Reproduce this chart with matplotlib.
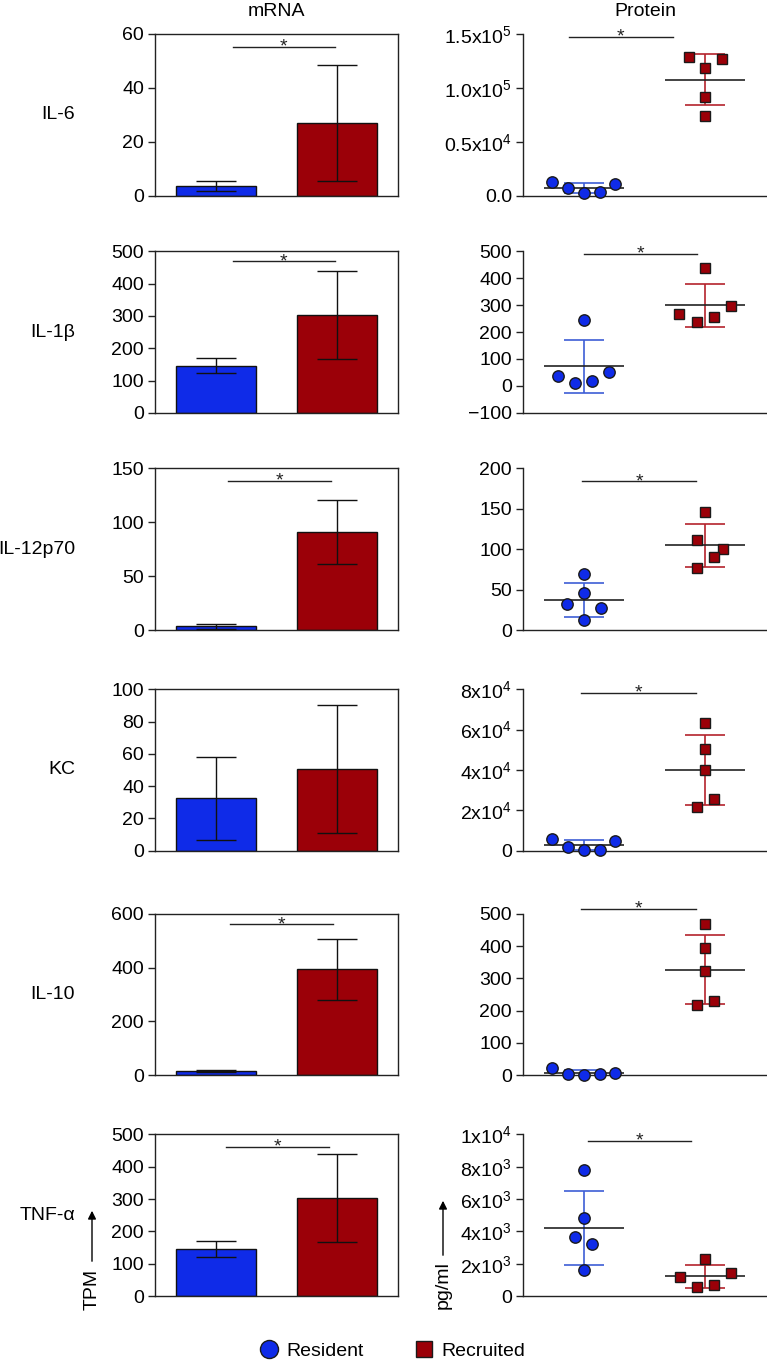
import matplotlib
matplotlib.use("Agg")
import matplotlib.pyplot as plt
from matplotlib.lines import Line2D
from matplotlib.patches import FancyArrowPatch
import numpy as np

# ---------------- data ----------------
genes = ["IL-6", "IL-1\u03b2", "IL-12p70", "KC", "IL-10", "TNF-\u03b1"]
groups = ["Resident", "Recruited"]

# mRNA (TPM): mean and SD per group
mrna_res_mean = [3.5, 146, 3.8, 32.5, 17, 146]
mrna_res_sd = [1.8, 24, 2.3, 25.7, 3.5, 24]
mrna_rec_mean = [27, 303, 91, 50.5, 394, 303]
mrna_rec_sd = [21.5, 135, 29.5, 39.7, 113, 135]

# protein (pg/ml): individual samples
il6_res = [12700, 7400, 2200, 2800, 10600]
il6_rec = [128400, 126500, 118200, 91300, 73900]
il1b_res = [38, 245, 10, 18.6, 50.8]
il1b_rec = [266, 439, 238.6, 257, 296.8]
il12_res = [69, 46, 32.4, 27.9, 12.7]
il12_rec = [146.2, 111.6, 100.2, 90, 76.8]
kc_res = [5790, 1980, 350, 640, 4950]
kc_rec = [63500, 50300, 40100, 25400, 21800]
il10_res = [23.5, 5, 0, 4, 8]
il10_rec = [469, 394.8, 322.7, 230, 218.4]
tnf_res = [7770, 4840, 3670, 3200, 1590]
tnf_rec = [1190, 2290, 540, 680, 1440]

prot_res = [il6_res, il1b_res, il12_res, kc_res, il10_res, tnf_res]
prot_rec = [il6_rec, il1b_rec, il12_rec, kc_rec, il10_rec, tnf_rec]

# axis limits and ticks
mrna_ylim = [(0, 60), (0, 500), (0, 150), (0, 100), (0, 600), (0, 500)]
mrna_ticks = [[0, 20, 40, 60], [0, 100, 200, 300, 400, 500], [0, 50, 100, 150],
              [0, 20, 40, 60, 80, 100], [0, 200, 400, 600], [0, 100, 200, 300, 400, 500]]
prot_ylim = [(0, 150000), (-100, 500), (0, 200), (0, 80000), (0, 500), (0, 10000)]
prot_ticks = [[0, 50000, 100000, 150000], [-100, 0, 100, 200, 300, 400, 500],
              [0, 50, 100, 150, 200], [0, 20000, 40000, 60000, 80000],
              [0, 100, 200, 300, 400, 500], [0, 2000, 4000, 6000, 8000, 10000]]
prot_ticklabels = [
    ["0.0", r"$\mathregular{0.5x10^4}$", r"$\mathregular{1.0x10^5}$", r"$\mathregular{1.5x10^5}$"],
    ["\u2212100", "0", "100", "200", "300", "400", "500"],
    ["0", "50", "100", "150", "200"],
    ["0", r"$\mathregular{2x10^4}$", r"$\mathregular{4x10^4}$", r"$\mathregular{6x10^4}$", r"$\mathregular{8x10^4}$"],
    ["0", "100", "200", "300", "400", "500"],
    ["0", r"$\mathregular{2x10^3}$", r"$\mathregular{4x10^3}$", r"$\mathregular{6x10^3}$",
     r"$\mathregular{8x10^3}$", r"$\mathregular{1x10^4}$"],
]

# significance bars: (x start, x end, y level); None = no bar
mrna_sig = [(1.14, 1.98, 55.3), (1.14, 1.98, 469), (1.104, 1.95, 138.6), None,
            (1.12, 1.965, 560.7), (1.088, 1.929, 461.7)]
prot_sig = [(0.881, 1.731, 147500), (1.005, 1.936, 489.8), (0.988, 1.925, 184.4),
            (0.977, 1.925, 78300), (0.977, 1.925, 515.5), (1.032, 1.881, 9600)]

# ---------------- layout / style ----------------
jit_res = [[-0.26, -0.13, 0, 0.13, 0.26], [-0.208, 0, -0.068, 0.071, 0.208],
           [0, 0, -0.14, 0.14, 0], [-0.26, -0.13, 0, 0.13, 0.26],
           [-0.26, -0.13, 0, 0.13, 0.26], [0, 0, -0.071, 0.071, 0]]
jit_rec = [[-0.137, 0.137, 0, 0, 0], [-0.214, 0, -0.071, 0.071, 0.208],
           [0, -0.071, 0.142, 0.071, -0.071], [0, 0, 0, 0.071, -0.071],
           [0, 0, 0, 0.071, -0.071], [-0.208, 0, -0.071, 0.071, 0.208]]

BLUE = "#0f2be8"
RED = "#9b0008"
EBLUE = "#3d5ed6"
ERED = "#b4232c"
DARK = "#222222"
FS = 14

plt.rcParams["font.family"] = ["Liberation Sans", "DejaVu Sans"]
plt.rcParams["mathtext.fontset"] = "custom"
plt.rcParams["mathtext.rm"] = "Liberation Sans"

W, H = 767, 1362
fig = plt.figure(figsize=(W / 100, H / 100), dpi=100)

rows_px = [(34, 195.5), (251.3, 412.8), (468.5, 630.3), (689.2, 850.8),
           (913.7, 1075.3), (1134.3, 1296.2)]
LEFT_X = (155, 398)
RIGHT_X = (523, 766)


def rect(x0, x1, top, bottom):
    return [x0 / W, 1 - bottom / H, (x1 - x0) / W, (bottom - top) / H]


def style_axis(ax):
    for s in ax.spines.values():
        s.set_linewidth(1.0)
        s.set_color(DARK)
    ax.tick_params(axis="y", direction="out", length=5, width=1, color=DARK,
                   labelsize=FS, pad=3)
    ax.tick_params(axis="x", bottom=False, labelbottom=False)
    ax.set_xlim(0.5, 2.5)


def sig_bar(ax, sig):
    if sig is None:
        return
    x0, x1, y = sig
    ax.plot([x0, x1], [y, y], color=DARK, lw=1, clip_on=False, zorder=5)
    ax.annotate("*", xy=((x0 + x1) / 2, y), xytext=(0, -3.5), textcoords="offset points",
                ha="center", va="baseline", fontsize=FS, color=DARK, annotation_clip=False)


def fig_arrow(x, y0, y1):
    arr = FancyArrowPatch((x / W, 1 - y0 / H), (x / W, 1 - y1 / H), transform=fig.transFigure,
                          arrowstyle="-|>", mutation_scale=12, color="black", lw=1)
    fig.add_artist(arr)


pos = np.array([1, 2])
for i, g in enumerate(genes):
    top, bottom = rows_px[i]
    # ---- mRNA bars ----
    ax = fig.add_axes(rect(*LEFT_X, top, bottom))
    style_axis(ax)
    means = [mrna_res_mean[i], mrna_rec_mean[i]]
    sds = [mrna_res_sd[i], mrna_rec_sd[i]]
    ax.bar(pos, means, width=0.66, color=[BLUE, RED], edgecolor="#111111", linewidth=1, zorder=2)
    ax.errorbar(pos, means, yerr=sds, fmt="none", ecolor="#111111", elinewidth=1,
                capsize=14.4, capthick=1, zorder=3)
    ax.set_ylim(*mrna_ylim[i])
    ax.set_yticks(mrna_ticks[i])
    sig_bar(ax, mrna_sig[i])
    fig.text(75 / W, 1 - ((top + bottom) / 2) / H, g, ha="right", va="center", fontsize=FS)

    # ---- protein scatter ----
    ax2 = fig.add_axes(rect(*RIGHT_X, top, bottom))
    style_axis(ax2)
    ax2.spines["top"].set_visible(False)
    ax2.spines["right"].set_visible(False)
    for j, (vals, jit, col, ecol, mk, ms) in enumerate([
            (prot_res[i], jit_res[i], BLUE, EBLUE, "o", 8.2),
            (prot_rec[i], jit_rec[i], RED, ERED, "s", 7.6)]):
        v = np.array(vals, dtype=float)
        m = v.mean()
        sd = v.std(ddof=1)
        ax2.errorbar([pos[j]], [m], yerr=[sd], fmt="none", ecolor=ecol, elinewidth=1.2,
                     capsize=14.4, capthick=1.2, zorder=2)
        ax2.hlines(m, pos[j] - 0.33, pos[j] + 0.33, color=DARK, lw=1.2, zorder=3)
        ax2.plot(pos[j] + np.array(jit), v, linestyle="none", marker=mk, markersize=ms,
                 markerfacecolor=col, markeredgecolor="#1a1a1a", markeredgewidth=1,
                 zorder=4, clip_on=False)
    ax2.set_ylim(*prot_ylim[i])
    ax2.set_yticks(prot_ticks[i])
    ax2.set_yticklabels(prot_ticklabels[i])
    sig_bar(ax2, prot_sig[i])

# column headers
fig.text(276.7 / W, 1 - 12 / H, "mRNA", ha="center", va="center", fontsize=FS)
fig.text(645 / W, 1 - 12 / H, "Protein", ha="center", va="center", fontsize=FS)

# unit labels with arrows
fig.text(92 / W, 1 - 1289 / H, "TPM", rotation=90, ha="center", va="center", fontsize=FS)
fig_arrow(92, 1264, 1208)
fig.text(443 / W, 1 - 1285 / H, "pg/ml", rotation=90, ha="center", va="center", fontsize=FS)
fig_arrow(443, 1258, 1198)

# legend
handles = [
    Line2D([], [], linestyle="none", marker="o", markersize=13, markerfacecolor=BLUE,
           markeredgecolor="#1a1a1a", markeredgewidth=1),
    Line2D([], [], linestyle="none", marker="s", markersize=12, markerfacecolor=RED,
           markeredgecolor="#1a1a1a", markeredgewidth=1),
]
fig.legend(handles, groups, loc="center", bbox_to_anchor=(392 / W, 1 - 1351 / H), ncol=2,
           frameon=False, fontsize=FS, handlelength=1.0, handletextpad=0.4,
           columnspacing=2.6, borderpad=0)

fig.savefig("out.png", dpi=100)
